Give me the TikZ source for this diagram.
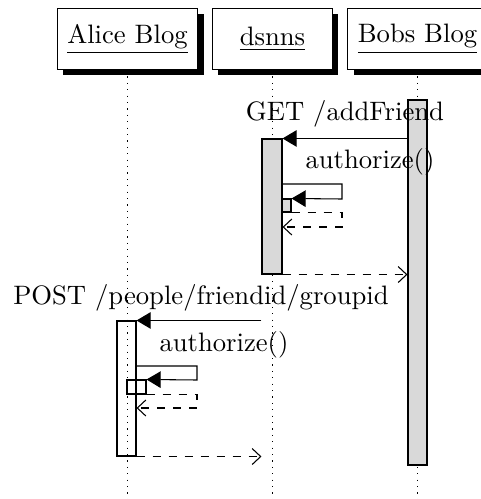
\documentclass[tikz,border=0pt]{standalone}
\usetikzlibrary{positioning,fit,arrows.meta,shadows}

\begin{document}
\begin{tikzpicture}[
    x=0.375pt, y=-0.375pt,
    inst/.style={draw, fill=white, minimum width=45pt, minimum height=22.9pt, inner xsep=3.75pt,
                 drop shadow={shadow xshift=2.2pt, shadow yshift=-2.2pt, fill=black, opacity=1}},
    life/.style={dotted},
    act/.style={draw, inner sep=0pt, fit=#1},
    msg/.style={-{Triangle[length=5.3pt, width=6.2pt]}},
    ret/.style={dashed, -{Straight Barb[length=3.2pt, width=6pt]}},
    lab/.style={inner sep=1pt},
]
  \useasboundingbox (0,0) rectangle (481,499);

  % ---------------- lifelines ----------------
  \node[inst] (alice) at (127.5, 39) {\underline{Alice Blog}};
  \node[inst] (dsnns) at (272.5, 39) {\underline{dsnns}};
  \node[inst] (bob)   at (417.5, 39) {\underline{Bobs Blog}};
  \foreach \p in {alice, dsnns, bob}
    \draw[life] (\p.south) -- (\p.south |- 0,499);

  % ---------------- activations ----------------
  \coordinate (b1) at (408, 100);  \coordinate (b2) at (427, 465);
  \node[act={(b1)(b2)}, fill=gray!30] (bobAct) {};
  \coordinate (s1) at (262, 139);  \coordinate (s2) at (282, 274);
  \node[act={(s1)(s2)}, fill=gray!30] (srvAct) {};
  \coordinate (s3) at (282, 199);  \coordinate (s4) at (291, 212);
  \node[act={(s3)(s4)}, fill=gray!30] (srvSelf) {};
  \coordinate (a1) at (117, 321);  \coordinate (a2) at (136, 456);
  \node[act={(a1)(a2)}] (aliceAct) {};
  \coordinate (a3) at (127, 380);  \coordinate (a4) at (146, 394);
  \node[act={(a3)(a4)}] (aliceSelf) {};

  % ---------------- bob -> dsnns ----------------
  \draw[msg] (srvAct.north east -| bobAct.west) -- (srvAct.north east);
  \node[lab] (getL) at (345, 114) {GET /addFriend};
  \node[lab] (authA) at (370, 162) {authorize()};
  \draw[msg] (srvAct.east |- 0,184) -| (342,199) -- (srvSelf.north east);
  \draw[ret] (srvSelf.south east) -| (342,227) -- (srvAct.east |- 0,227);
  \draw[ret] (srvAct.south east) -- (srvAct.south east -| bobAct.west);

  % ---------------- dsnns -> alice ----------------
  \draw[msg] (srvAct.west |- aliceAct.north) -- (aliceAct.north east);
  \node[lab] (postL) at (201, 298) {POST /people/friendid/groupid};
  \node[lab] (authB) at (224, 345) {authorize()};
  \draw[msg] (aliceAct.east |- 0,366) -| (197,380) -- (aliceSelf.north east);
  \draw[ret] (aliceSelf.south east) -| (197,408) -- (aliceAct.east |- 0,408);
  \draw[ret] (aliceAct.south east) -- (srvAct.west |- aliceAct.south);
\end{tikzpicture}
\end{document}
